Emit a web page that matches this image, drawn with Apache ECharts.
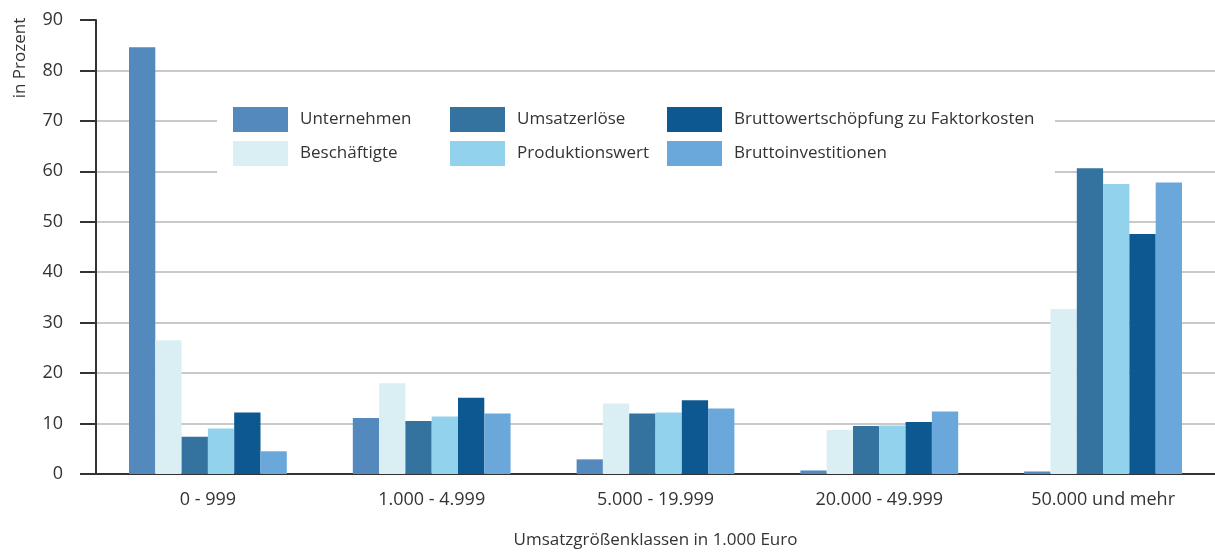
<!DOCTYPE html>
<html>
<head>
<meta charset="utf-8">
<script src="https://cdn.jsdelivr.net/npm/echarts@6/dist/echarts.min.js"></script>
<style>
  html, body { margin: 0; padding: 0; background: #fff; overflow: hidden; }
  #chart { width: 1215px; height: 557px; }
</style>
</head>
<body>
<div id="chart"></div>
<script>
const categories = ['0 - 999', '1.000 - 4.999', '5.000 - 19.999', '20.000 - 49.999', '50.000 und mehr']

const unternehmen = [84.6, 11.1, 2.9, 0.7, 0.5]
const beschaeftigte = [26.5, 18.0, 14.0, 8.7, 32.7]
const umsatzerloese = [7.4, 10.5, 12.0, 9.5, 60.6]
const produktionswert = [9.0, 11.4, 12.2, 9.6, 57.5]
const bruttowertschoepfung = [12.2, 15.1, 14.6, 10.3, 47.6]
const bruttoinvestitionen = [4.5, 12.0, 13.0, 12.4, 57.8]

const yTicks = { min: 0, max: 90, interval: 10 }

const FONT = '"Open Sans"'
const TEXT = '#333333'

const colors = {
  unternehmen: '#5389bd',
  beschaeftigte: '#daeff3',
  umsatzerloese: '#34729f',
  produktionswert: '#93d2ec',
  bruttowertschoepfung: '#0d5891',
  bruttoinvestitionen: '#6aa8db',
}

function bar(name, data, color) {
  return {
    name,
    type: 'bar',
    data,
    barGap: '0%',
    barCategoryGap: '29.5%',
    itemStyle: { color },
  }
}

function legendCol(left, names) {
  return {
    orient: 'vertical',
    left,
    top: 107,
    padding: 0,
    itemWidth: 55,
    itemHeight: 25,
    itemGap: 9,
    icon: 'rect',
    data: names,
    textStyle: { fontFamily: FONT, fontSize: 17, color: TEXT, padding: [2, 0, 0, 7] },
  }
}

const chart = echarts.init(document.getElementById('chart'), null, { renderer: 'canvas' })

chart.setOption({
  animation: false,
  backgroundColor: '#ffffff',
  grid: { left: 96, right: 0, top: 20, bottom: 78, containLabel: false },
  legend: [
    legendCol(233, ['Unternehmen', 'Beschäftigte']),
    legendCol(450, ['Umsatzerlöse', 'Produktionswert']),
    legendCol(667, ['Bruttowertschöpfung zu Faktorkosten', 'Bruttoinvestitionen']),
  ],
  graphic: {
    elements: [
      // white box behind the legend
      { type: 'rect', left: 217, top: 98, z: 3, shape: { width: 838, height: 82 }, style: { fill: '#ffffff' } },
      {
        type: 'text',
        x: 20,
        y: 58,
        rotation: Math.PI / 2,
        z: 5,
        style: { text: 'in Prozent', fill: TEXT, font: '17px ' + FONT, align: 'center', verticalAlign: 'middle' },
      },
    ],
  },
  xAxis: {
    type: 'category',
    data: categories,
    axisLine: { lineStyle: { color: TEXT, width: 2 } },
    axisTick: { show: false },
    axisLabel: { color: TEXT, fontFamily: FONT, fontSize: 18, margin: 17 },
    name: 'Umsatzgrößenklassen in 1.000 Euro',
    nameLocation: 'middle',
    nameGap: 55,
    nameTextStyle: { color: TEXT, fontFamily: FONT, fontSize: 17, lineHeight: 23 },
  },
  yAxis: {
    type: 'value',
    min: yTicks.min,
    max: yTicks.max,
    interval: yTicks.interval,
    axisLine: { show: true, lineStyle: { color: TEXT, width: 2 } },
    axisTick: { show: true, length: 16, lineStyle: { color: TEXT, width: 2 } },
    axisLabel: { color: TEXT, fontFamily: FONT, fontSize: 18, margin: 33 },
    splitLine: { show: true, showMaxLine: false, lineStyle: { color: '#c9c9c9', width: 2 } },
  },
  series: [
    bar('Unternehmen', unternehmen, colors.unternehmen),
    bar('Beschäftigte', beschaeftigte, colors.beschaeftigte),
    bar('Umsatzerlöse', umsatzerloese, colors.umsatzerloese),
    bar('Produktionswert', produktionswert, colors.produktionswert),
    bar('Bruttowertschöpfung zu Faktorkosten', bruttowertschoepfung, colors.bruttowertschoepfung),
    bar('Bruttoinvestitionen', bruttoinvestitionen, colors.bruttoinvestitionen),
  ],
})
</script>
</body>
</html>
